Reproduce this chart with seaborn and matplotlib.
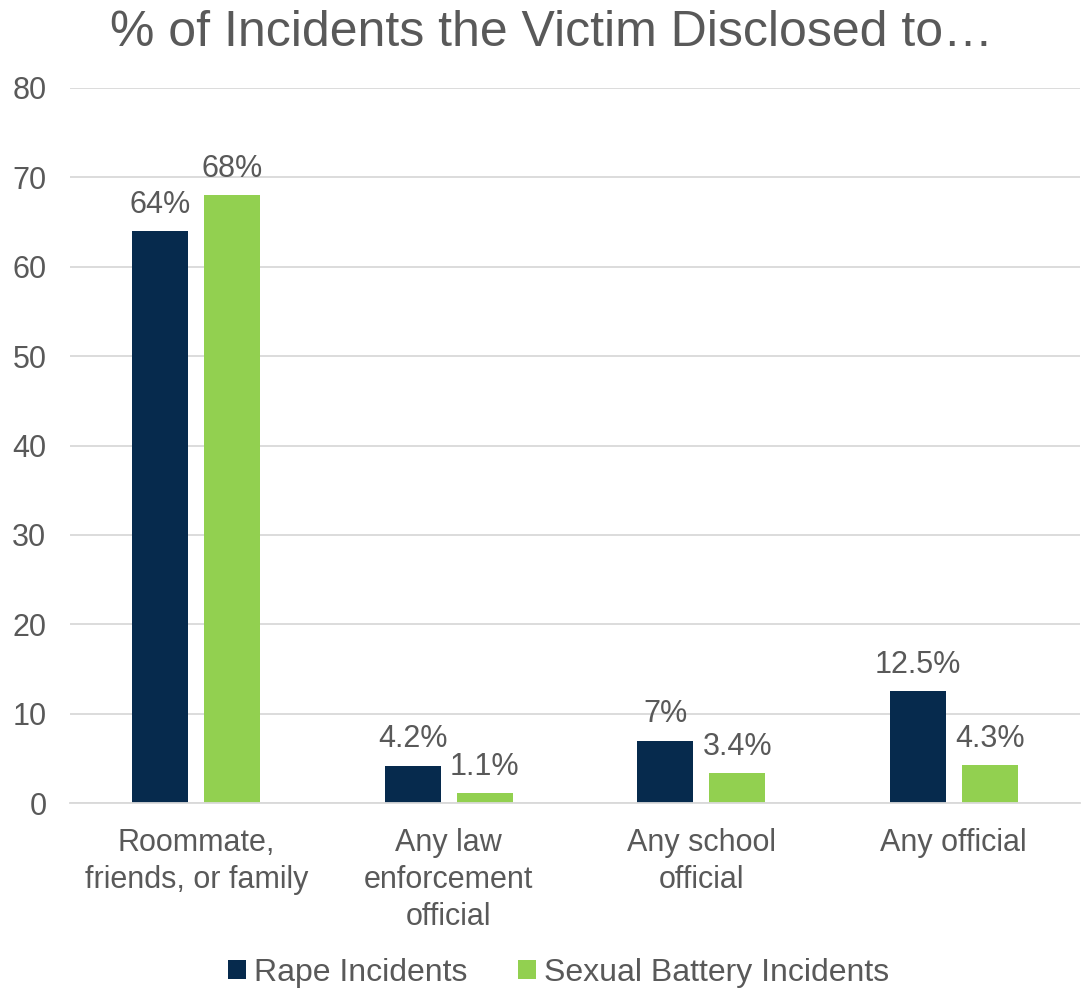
import matplotlib
matplotlib.use("Agg")
import matplotlib.pyplot as plt
import seaborn as sns
import pandas as pd

categories = ["Roommate,\nfriends, or family", "Any law\nenforcement\nofficial",
              "Any school\nofficial", "Any official"]
series_names = ["Rape Incidents", "Sexual Battery Incidents"]
rape = [64, 4.2, 7, 12.5]
battery = [68, 1.1, 3.4, 4.3]
rape_labels = ["64%", "4.2%", "7%", "12.5%"]
battery_labels = ["68%", "1.1%", "3.4%", "4.3%"]
colors = ["#062A4D", "#92D050"]
text_color = "#595959"

df = pd.DataFrame({
    "category": categories * 2,
    "series": [series_names[0]] * 4 + [series_names[1]] * 4,
    "value": rape + battery,
})

sns.set_theme(style="white")
plt.rcParams["font.family"] = ["Liberation Sans", "DejaVu Sans"]

fig = plt.figure(figsize=(10.82, 9.94), dpi=100)
ax = fig.add_axes([0.0647, 0.192, 0.9333, 0.7195])

sns.barplot(data=df, x="category", y="value", hue="series", order=categories,
            hue_order=series_names, palette=colors, width=0.571, gap=0.222,
            saturation=1, linewidth=0, ax=ax, legend=True)

for cont, labs in zip(ax.containers, [rape_labels, battery_labels]):
    ax.bar_label(cont, labels=labs, padding=8, fontsize=22, color=text_color)

ax.set_ylim(0, 80)
ax.set_yticks(range(0, 81, 10))
ax.yaxis.grid(True, color="#D9D9D9", linewidth=1.3)
ax.set_axisbelow(True)
for s in ["top", "right", "left"]:
    ax.spines[s].set_visible(False)
ax.spines["bottom"].set_color("#D9D9D9")
ax.spines["bottom"].set_linewidth(1.3)
ax.set_xlabel("")
ax.set_ylabel("")
ax.tick_params(axis="y", labelsize=22, colors=text_color, length=0, pad=17)
ax.tick_params(axis="x", labelsize=22, colors=text_color, length=0, pad=18)
for t in ax.get_xticklabels():
    t.set_linespacing(1.3)

ax.set_xlim(-0.5, 3.5)

fig.suptitle("% of Incidents the Victim Disclosed to…", fontsize=36,
             color=text_color, y=0.99, va="top", x=0.51)

ax.legend(loc="center", bbox_to_anchor=(0.484, -0.237), ncol=2, frameon=False,
          fontsize=23, labelcolor=text_color, handlelength=0.55, handleheight=0.55,
          handletextpad=0.25, columnspacing=1.6)

fig.savefig("out.png", dpi=100)
